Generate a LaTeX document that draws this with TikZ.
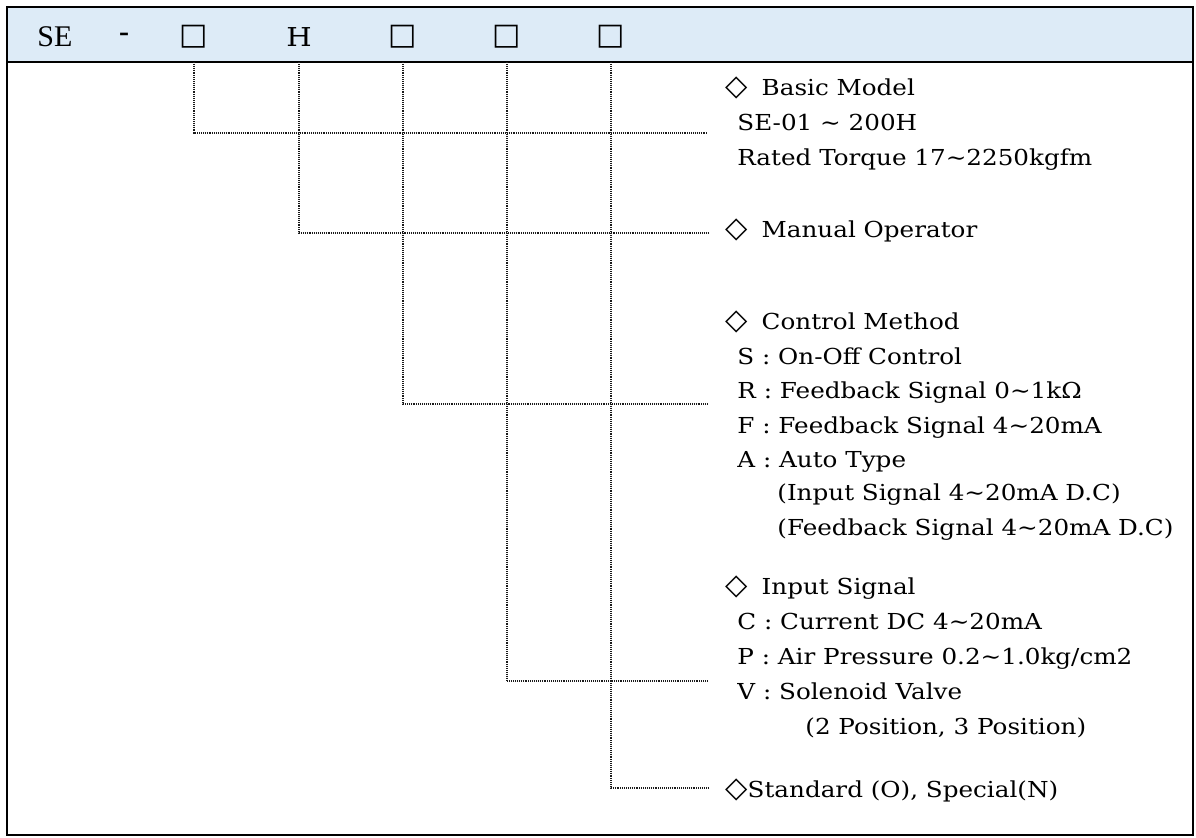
\documentclass[tikz,border=0pt]{standalone}
\usepackage{fontspec}
\setmainfont{DejaVu Serif}[FakeStretch=1.12]
\newfontfamily\symfont{DejaVu Sans}
\newfontfamily\codefont{Liberation Serif}
\usetikzlibrary{positioning}
\definecolor{hdrblue}{HTML}{DDEBF7}
\definecolor{leadgray}{HTML}{1A1A1A}
\newcommand{\dia}{{\symfont\fontsize{14.5}{14}\selectfont ◇}}
\newcommand{\blank}{{\symfont\fontsize{15}{15}\selectfont □}}

\begin{document}
\begin{tikzpicture}[x=0.5pt, y=-0.5pt,
    frame/.style={draw, line width=1pt},
    code/.style={inner sep=0pt, anchor=center},
    item/.style={inner sep=0pt, anchor=base west, font=\fontsize{11}{12}\selectfont},
    leader/.style={draw=leadgray, line width=0.65pt, dash pattern=on 0.5pt off 0.45pt}]
  \useasboundingbox (0,0) rectangle (1196,837);

  % header band and frame
  \fill[hdrblue] (7,7) rectangle (1193,62);
  \draw[frame] (7,7) rectangle (1193,835);
  \draw[frame] (7,62) -- (1193,62);
  \coordinate (div) at (7,62);

  % model code
  \node[code, font=\codefont\fontsize{15}{15}\selectfont] (se) at (55,37) {SE};
  \node[code, font=\codefont\bfseries\fontsize{15}{15}\selectfont] (dash) at (124,37) {-};
  \node[code] (cmodel) at (194,37) {\blank};
  \node[code, font=\fontsize{13}{13}\selectfont] (cmanual) at (299,37) {H};
  \node[code] (cctrl) at (403,37) {\blank};
  \node[code] (cinput) at (507,37) {\blank};
  \node[code] (cstd) at (611,37) {\blank};

  % basic model
  \node[item] (basic) at (725,95) {\dia\hspace{7pt}Basic Model};
  \node[item] (basic1) at (737,130) {SE-01 \textasciitilde{} 200H};
  \node[item] (basic2) at (737,165) {Rated Torque 17\textasciitilde{}2250kgfm};

  % manual operator
  \node[item] (manual) at (725,237) {\dia\hspace{7pt}Manual Operator};

  % control method
  \node[item] (ctrl) at (725,329) {\dia\hspace{7pt}Control Method};
  \node[item] (ctrls) at (737,364) {S : On-Off Control};
  \node[item] (ctrlr) at (737,398) {R : Feedback Signal 0\textasciitilde{}1kΩ};
  \node[item] (ctrlf) at (737,433) {F : Feedback Signal 4\textasciitilde{}20mA};
  \node[item] (ctrla) at (737,467) {A : Auto Type};
  \node[item] (ctrla1) at (777,500) {(Input Signal 4\textasciitilde{}20mA D.C)};
  \node[item] (ctrla2) at (777,535) {(Feedback Signal 4\textasciitilde{}20mA D.C)};

  % input signal
  \node[item] (input) at (725,594) {\dia\hspace{7pt}Input Signal};
  \node[item] (inc) at (737,629) {C : Current DC 4\textasciitilde{}20mA};
  \node[item] (inp) at (737,664) {P : Air Pressure 0.2\textasciitilde{}1.0kg/cm2};
  \node[item] (inv) at (737,699) {V : Solenoid Valve};
  \node[item] (inv1) at (805,734) {(2 Position, 3 Position)};

  % standard / special
  \node[item] (std) at (725,797) {\dia Standard (O), Special(N)};

  % leader ends
  \coordinate (ebasic) at (708,133);
  \coordinate (emanual) at (708,233);
  \coordinate (ectrl) at (708,404);
  \coordinate (einput) at (708,681);
  \coordinate (estd) at (708,788);

  \draw[leader] (cmodel |- div) |- (ebasic);
  \draw[leader] (cmanual |- div) |- (emanual);
  \draw[leader] (cctrl |- div) |- (ectrl);
  \draw[leader] (cinput |- div) |- (einput);
  \draw[leader] (cstd |- div) |- (estd);
\end{tikzpicture}
\end{document}
